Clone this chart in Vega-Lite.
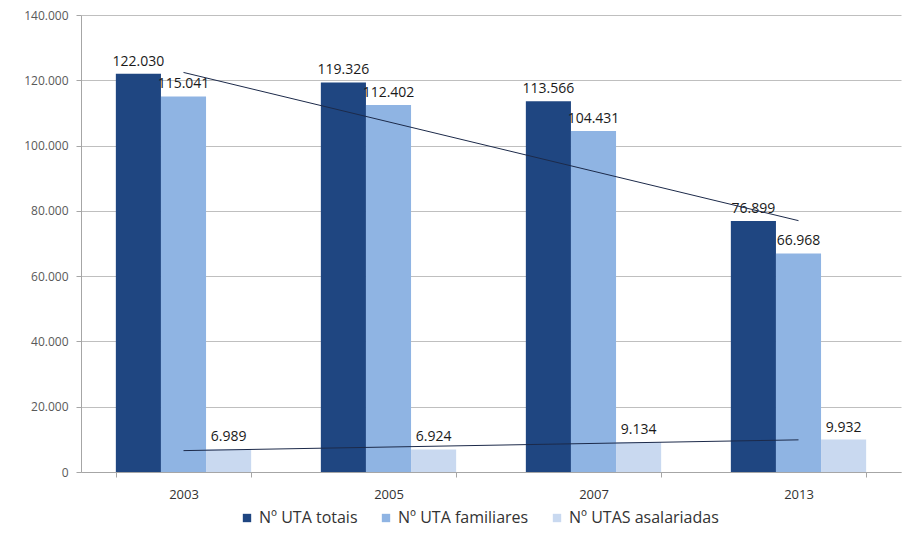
{
  "$schema": "https://vega.github.io/schema/vega-lite/v6.json",
  "width": 820,
  "height": 457,
  "autosize": {"type": "none"},
  "padding": {"left": 81, "top": 15, "right": 10, "bottom": 65},
  "background": "white",
  "config": {
    "locale": {"number": {"decimal": ",", "thousands": ".", "grouping": [3], "currency": ["", " €"]}},
    "font": "Open Sans",
    "view": {"stroke": null}
  },
  "datasets": {
    "bars": [
      {"ano": "2003", "serie": "Nº UTA totais", "valor": 122030},
      {"ano": "2003", "serie": "Nº UTA familiares", "valor": 115041},
      {"ano": "2003", "serie": "Nº UTAS asalariadas", "valor": 6989},
      {"ano": "2005", "serie": "Nº UTA totais", "valor": 119326},
      {"ano": "2005", "serie": "Nº UTA familiares", "valor": 112402},
      {"ano": "2005", "serie": "Nº UTAS asalariadas", "valor": 6924},
      {"ano": "2007", "serie": "Nº UTA totais", "valor": 113566},
      {"ano": "2007", "serie": "Nº UTA familiares", "valor": 104431},
      {"ano": "2007", "serie": "Nº UTAS asalariadas", "valor": 9134},
      {"ano": "2013", "serie": "Nº UTA totais", "valor": 76899},
      {"ano": "2013", "serie": "Nº UTA familiares", "valor": 66968},
      {"ano": "2013", "serie": "Nº UTAS asalariadas", "valor": 9932}
    ],
    "trend": [
      {"ano": "2003", "tendencia": "totais", "valor": 122400},
      {"ano": "2013", "tendencia": "totais", "valor": 77000},
      {"ano": "2003", "tendencia": "asalariadas", "valor": 6550},
      {"ano": "2013", "tendencia": "asalariadas", "valor": 9850}
    ]
  },
  "layer": [
    {
      "data": {"name": "bars"},
      "mark": {"type": "bar"},
      "encoding": {
        "x": {
          "field": "ano", "type": "nominal",
          "scale": {"paddingInner": 0.34, "paddingOuter": 0.17},
          "axis": {
            "title": null, "labelAngle": 0, "labelFont": "Open Sans", "labelFontSize": 13,
            "labelColor": "#333333", "domainColor": "#a6a6a6", "tickColor": "#a6a6a6",
            "tickBand": "extent", "tickSize": 5, "labelPadding": 11
          }
        },
        "xOffset": {
          "field": "serie", "type": "nominal",
          "sort": ["Nº UTA totais", "Nº UTA familiares", "Nº UTAS asalariadas"],
          "scale": {"paddingInner": 0, "paddingOuter": 0}
        },
        "y": {
          "field": "valor", "type": "quantitative",
          "scale": {"domain": [0, 140000], "nice": false},
          "axis": {
            "title": null, "values": [0, 20000, 40000, 60000, 80000, 100000, 120000, 140000],
            "format": ",d", "labelFont": "Open Sans", "labelFontSize": 12, "labelColor": "#595959",
            "gridColor": "#bfbfbf", "domainColor": "#a6a6a6", "tickColor": "#a6a6a6",
            "tickSize": 5, "labelPadding": 8
          }
        },
        "color": {
          "field": "serie", "type": "nominal",
          "sort": ["Nº UTA totais", "Nº UTA familiares", "Nº UTAS asalariadas"],
          "scale": {"range": ["#1f4681", "#8fb4e3", "#c9d9f0"]},
          "legend": {
            "title": null, "orient": "none", "direction": "horizontal",
            "legendX": 158, "legendY": 495,
            "symbolType": "square", "symbolSize": 70, "labelFont": "Open Sans",
            "labelFontSize": 16, "labelColor": "#333333", "columnPadding": 20,
            "symbolStrokeWidth": 0, "labelOffset": 4
          }
        }
      }
    },
    {
      "data": {"name": "bars"},
      "mark": {"type": "text", "baseline": "bottom", "dy": -5, "fontSize": 14, "color": "#1a1a1a", "font": "Open Sans"},
      "encoding": {
        "x": {"field": "ano", "type": "nominal"},
        "xOffset": {
          "field": "serie", "type": "nominal",
          "sort": ["Nº UTA totais", "Nº UTA familiares", "Nº UTAS asalariadas"]
        },
        "y": {"field": "valor", "type": "quantitative"},
        "text": {"field": "valor", "type": "quantitative", "format": ",d"}
      }
    },
    {
      "data": {"name": "trend"},
      "mark": {"type": "line", "color": "#1c2a4a", "strokeWidth": 1},
      "encoding": {
        "x": {"field": "ano", "type": "nominal"},
        "y": {"field": "valor", "type": "quantitative"},
        "detail": {"field": "tendencia", "type": "nominal"}
      }
    }
  ]
}
